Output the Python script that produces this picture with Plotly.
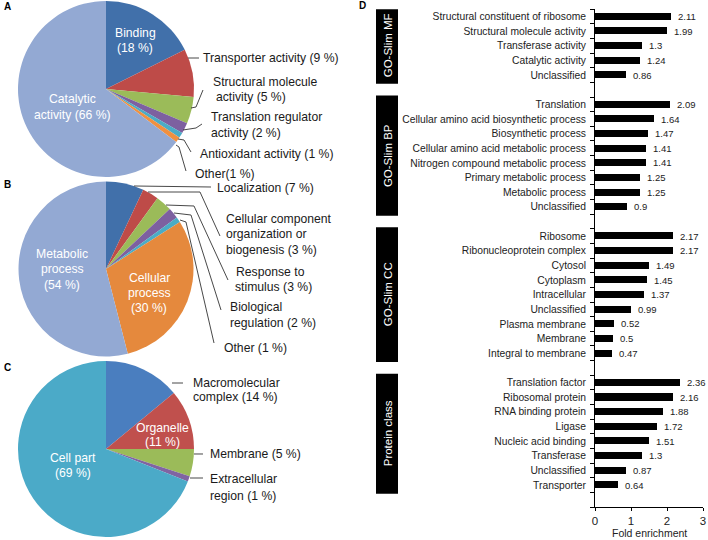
import plotly.graph_objects as go

W, H = 708, 540
FONT = "Liberation Sans, Arial, sans-serif"

# ---------------- Data ----------------
# Panel A (molecular function)
a_labels = ["Binding", "Transporter activity", "Structural molecule activity",
            "Translation regulator activity", "Antioxidant activity", "Other",
            "Catalytic activity"]
a_values = [18, 9, 5, 2, 1, 1, 66]
a_colors = ["#4170AA", "#BE4B48", "#9BBB59", "#7D60A0", "#4BACC6", "#F09040", "#93A9D3"]

# Panel B (biological process)
b_labels = ["Localization", "Cellular component organization or biogenesis",
            "Response to stimulus", "Biological regulation", "Other",
            "Cellular process", "Metabolic process"]
b_values = [7, 3, 3, 2, 1, 30, 54]
b_colors = ["#4170AA", "#BE4B48", "#9BBB59", "#7D60A0", "#4BACC6", "#E5893D", "#93A9D3"]

# Panel C (cellular component)
c_labels = ["Macromolecular complex", "Organelle", "Membrane",
            "Extracellular region", "Cell part"]
c_values = [14, 11, 5, 1, 69]
c_colors = ["#4A7EBF", "#C0504D", "#9BBB59", "#8064A2", "#4BAAC8"]

# Panel D (fold enrichment)
mf_terms = ["Structural constituent of ribosome", "Structural molecule activity",
            "Transferase activity", "Catalytic activity", "Unclassified"]
mf_vals = [2.11, 1.99, 1.3, 1.24, 0.86]
bp_terms = ["Translation", "Cellular amino acid biosynthetic process",
            "Biosynthetic process", "Cellular amino acid metabolic process",
            "Nitrogen compound metabolic process", "Primary metabolic process",
            "Metabolic process", "Unclassified"]
bp_vals = [2.09, 1.64, 1.47, 1.41, 1.41, 1.25, 1.25, 0.9]
cc_terms = ["Ribosome", "Ribonucleoprotein complex", "Cytosol", "Cytoplasm",
            "Intracellular", "Unclassified", "Plasma membrane", "Membrane",
            "Integral to membrane"]
cc_vals = [2.17, 2.17, 1.49, 1.45, 1.37, 0.99, 0.52, 0.5, 0.47]
pc_terms = ["Translation factor", "Ribosomal protein", "RNA binding protein",
            "Ligase", "Nucleic acid binding", "Transferase", "Unclassified",
            "Transporter"]
pc_vals = [2.36, 2.16, 1.88, 1.72, 1.51, 1.3, 0.87, 0.64]
group_names = ["GO-Slim MF", "GO-Slim BP", "GO-Slim CC", "Protein class"]
x_ticks = [0, 1, 2, 3]


def X(px):
    return px / W


def Y(py):
    return 1 - py / H


def pie_domain(cx, cy, r):
    return dict(x=[X(cx - r), X(cx + r)], y=[Y(cy + r), Y(cy - r)])


fig = go.Figure()

for labels, values, colors, (cx, cy, r) in [
    (a_labels, a_values, a_colors, (106, 89, 88)),
    (b_labels, b_values, b_colors, (106, 269, 87.5)),
    (c_labels, c_values, c_colors, (106, 449, 88)),
]:
    fig.add_trace(go.Pie(
        labels=labels, values=values, sort=False, direction="clockwise",
        rotation=0, marker=dict(colors=colors, line=dict(width=0)),
        textinfo="none", hoverinfo="label+percent", showlegend=False,
        domain=pie_domain(cx, cy, r),
    ))

# ---------------- Bar chart D ----------------
groups = [(mf_terms, mf_vals), (bp_terms, bp_vals), (cc_terms, cc_vals), (pc_terms, pc_vals)]
pos, terms, vals, spans = [], [], [], []
p = 0
for t_list, v_list in groups:
    start = p
    for t, v in zip(t_list, v_list):
        pos.append(p)
        terms.append(t)
        vals.append(v)
        p += 1
    spans.append((start, p - 1))
    p += 1  # blank row between groups
n_rows = p - 1

fig.add_trace(go.Bar(
    x=vals, y=pos, orientation="h", width=0.48,
    marker=dict(color="black", line=dict(width=0)),
    xaxis="x", yaxis="y", showlegend=False, hoverinfo="x+text",
    hovertext=terms,
))

annotations = []
shapes = []

for v, yy in zip(vals, pos):
    annotations.append(dict(
        x=v, y=yy, xref="x", yref="y", text=f"{v:g}", showarrow=False,
        xanchor="left", yanchor="middle", xshift=5,
        font=dict(size=9.5, color="#222", family=FONT)))

for name, (s, e) in zip(group_names, spans):
    shapes.append(dict(type="rect", xref="paper", yref="y",
                       x0=X(376), x1=X(398), y0=s - 0.6, y1=e + 0.6,
                       fillcolor="black", line=dict(width=0), layer="below"))
    annotations.append(dict(x=X(387.5), y=(s + e) / 2, xref="paper", yref="y",
                            text=name, textangle=-90, showarrow=False,
                            xanchor="center", yanchor="middle",
                            font=dict(size=11.5, color="white", family=FONT)))

annotations.append(dict(x=X(649), y=Y(533), xref="paper", yref="paper",
                        text="Fold enrichment", showarrow=False,
                        xanchor="center", yanchor="middle",
                        font=dict(size=10.5, color="#222", family=FONT)))

# ---------------- Pie labels ----------------
pie_text = [
    # (text, x, y, anchor, color)
    ("Binding", 135, 33, "center", "white"),
    ("(18 %)", 135, 48, "center", "white"),
    ("Catalytic", 72, 99, "center", "white"),
    ("activity (66 %)", 72, 115, "center", "white"),
    ("Transporter activity (9 %)", 201, 58, "left", "#1a1a1a"),
    ("Structural molecule", 211, 82, "left", "#1a1a1a"),
    ("activity (5 %)", 214, 97, "left", "#1a1a1a"),
    ("Translation regulator", 209, 117, "left", "#1a1a1a"),
    ("activity (2 %)", 209, 133, "left", "#1a1a1a"),
    ("Antioxidant activity (1 %)", 198, 154, "left", "#1a1a1a"),
    ("Other(1 %)", 193, 174, "left", "#1a1a1a"),

    ("Localization (7 %)", 215, 188, "left", "#1a1a1a"),
    ("Cellular component", 224, 219, "left", "#1a1a1a"),
    ("organization or", 224, 234, "left", "#1a1a1a"),
    ("biogenesis (3 %)", 224, 250, "left", "#1a1a1a"),
    ("Response to", 234, 272, "left", "#1a1a1a"),
    ("stimulus (3 %)", 233, 287, "left", "#1a1a1a"),
    ("Biological", 228, 307, "left", "#1a1a1a"),
    ("regulation (2 %)", 228, 323, "left", "#1a1a1a"),
    ("Other (1 %)", 222, 348, "left", "#1a1a1a"),
    ("Metabolic", 62, 254, "center", "white"),
    ("process", 62, 269, "center", "white"),
    ("(54 %)", 62, 285, "center", "white"),
    ("Cellular", 149, 278, "center", "white"),
    ("process", 149, 293, "center", "white"),
    ("(30 %)", 149, 308, "center", "white"),

    ("Macromolecular", 191, 383, "left", "#1a1a1a"),
    ("complex (14 %)", 191, 397, "left", "#1a1a1a"),
    ("Organelle", 162, 428, "center", "white"),
    ("(11 %)", 162, 442, "center", "white"),
    ("Membrane (5 %)", 208, 454, "left", "#1a1a1a"),
    ("Extracellular", 208, 479, "left", "#1a1a1a"),
    ("region (1 %)", 208, 496, "left", "#1a1a1a"),
    ("Cell part", 73, 458, "center", "white"),
    ("(69 %)", 73, 473, "center", "white"),
]
for txt, x, y, anc, col in pie_text:
    annotations.append(dict(x=X(x), y=Y(y), xref="paper", yref="paper",
                            text=txt, showarrow=False, xanchor=anc,
                            yanchor="middle",
                            font=dict(size=12.2, color=col, family=FONT)))

leaders = [
    [(188, 58), (199, 58)],
    [(191, 108), (196, 107), (203, 90)],
    [(183, 130), (196, 128), (202, 124)],
    [(178, 139), (184, 140), (191, 152)],
    [(176, 145), (179, 147), (186, 171)],
    [(134, 186), (211, 187)],
    [(148, 192), (200, 192), (220, 236)],
    [(166, 205), (194, 206), (228, 280)],
    [(174, 213), (191, 215), (221, 310)],
    [(180, 220), (186, 222), (214, 343)],
    [(172, 383), (183, 383)],
    [(194, 454), (203, 454)],
    [(190, 478), (203, 478)],
]
for pts in leaders:
    path = "M " + " L ".join(f"{X(x):.5f},{Y(y):.5f}" for x, y in pts)
    shapes.append(dict(type="path", xref="paper", yref="paper", path=path,
                       line=dict(color="#333", width=0.9)))

for letter, x, y in [("A", 7, 7), ("B", 7, 185), ("C", 7, 367), ("D", 362, 6)]:
    annotations.append(dict(x=X(x), y=Y(y), xref="paper", yref="paper",
                            text=f"<b>{letter}</b>", showarrow=False,
                            xanchor="center", yanchor="middle",
                            font=dict(size=10, color="black", family=FONT)))

fig.update_layout(
    template="none",
    width=W, height=H, margin=dict(l=0, r=0, t=0, b=0, pad=0),
    paper_bgcolor="white", plot_bgcolor="white",
    font=dict(family=FONT, color="#222"),
    showlegend=False,
    xaxis=dict(domain=[X(595), X(703)], range=[0, 3], tickvals=x_ticks,
               ticks="outside", ticklen=3, tickcolor="black",
               showline=True, linecolor="black", linewidth=1,
               showgrid=False, zeroline=False, anchor="y", automargin=False,
               tickfont=dict(size=11.5, color="#222", family=FONT)),
    yaxis=dict(domain=[Y(507), Y(9.2)], range=[n_rows + 0.5, -0.5],
               tickvals=pos, ticktext=terms, ticks="",
               showline=True, linecolor="black", linewidth=1,
               showgrid=False, zeroline=False, anchor="x", automargin=False,
               ticklabelstandoff=6,
               tickfont=dict(size=10.3, color="#222", family=FONT),
               minor=dict(tickmode="linear", tick0=0.5, dtick=1,
                          ticks="outside", ticklen=4, tickcolor="black",
                          showgrid=False)),
    annotations=annotations,
    shapes=shapes,
    bargap=0,
)

fig.write_html(
    "out.html",
    config={"displayModeBar": False},
    post_script="document.body.style.margin='0';document.body.style.overflow='hidden';",
)
